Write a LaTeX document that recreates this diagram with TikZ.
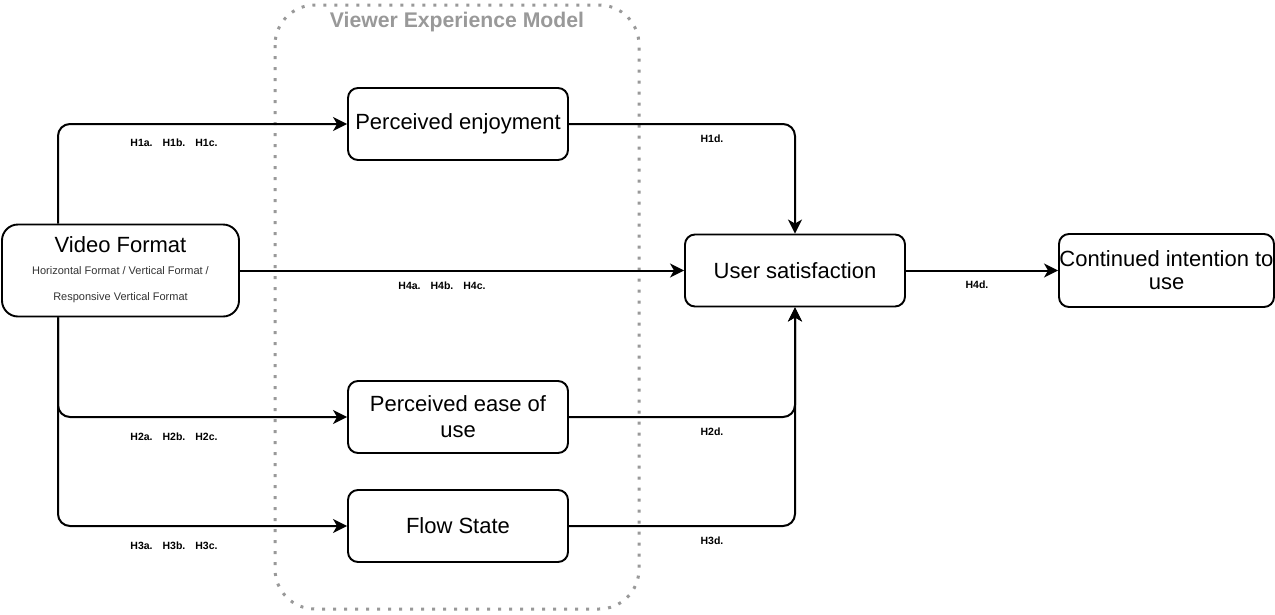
\documentclass[tikz,border=0pt]{standalone}
\usepackage{fontspec}
\setmainfont{Liberation Sans}
\usetikzlibrary{arrows.meta}
\definecolor{modelgray}{HTML}{999999}
\definecolor{subtext}{HTML}{333333}

\begin{document}
\begin{tikzpicture}[x=1pt, y=-1pt,
  box/.style={draw=black, line width=1.9pt, rounded corners=10pt, fill=white, minimum width=220pt, minimum height=72pt, inner sep=0pt, align=center, font=\fontsize{22}{25}\selectfont},
  link/.style={draw=black, line width=2pt, rounded corners=12pt, -{Stealth[length=14pt, width=14pt, inset=4pt]}},
  hyp/.style={font=\fontsize{10.5}{12}\selectfont\bfseries, inner sep=0pt}]
\useasboundingbox[fill=white] (0,0) rectangle (1275,614);
\draw[modelgray, line width=3pt, dash pattern=on 3pt off 8pt, rounded corners=40pt] (275,5) rectangle (639,609);
\node[font=\fontsize{21.2}{24}\selectfont\bfseries, text=modelgray] (modeltitle) at (457,22) {Viewer Experience Model};

\node[box, minimum width=237pt, minimum height=92pt, rounded corners=16pt] (video) at (120.5,270.5) {};
\node[font=\fontsize{22}{25}\selectfont, anchor=base] (videotitle) at (120.5,252) {Video Format};
\node[font=\fontsize{11}{26}\selectfont, text=subtext, align=center] (videosub) at (120.5,285) {Horizontal Format / Vertical Format /\\Responsive Vertical Format};
\node[box] (enjoy) at (458,124) {Perceived enjoyment};
\node[box, font=\fontsize{22}{26}\selectfont] (ease) at (458,417) {Perceived ease of\\use};
\node[box] (flow) at (458,526) {Flow State};
\node[box] (user) at (795,270.5) {User satisfaction};
\node[box, minimum width=215pt, minimum height=73pt, font=\fontsize{22}{23}\selectfont] (cont) at (1166.5,270.5) {Continued intention to\\use};

\coordinate (trunk) at (58,0);
\draw[link] (video.north -| trunk) |- (enjoy.west);
\draw[link] (video.south -| trunk) |- (ease.west);
\draw[link] (video.south -| trunk) |- (flow.west);
\draw[link] (video.east) -- (user.west);
\draw[link] (enjoy.east) -| (user.north);
\draw[link] (ease.east) -| (user.south);
\draw[link] (flow.east) -| (user.south);
\draw[link] (user.east) -- (cont.west);

\node[hyp] (h1) at (174,143) {H1a.\hspace{10pt}H1b.\hspace{10pt}H1c.};
\node[hyp] (h2) at (174,437) {H2a.\hspace{10pt}H2b.\hspace{10pt}H2c.};
\node[hyp] (h3) at (174,546) {H3a.\hspace{10pt}H3b.\hspace{10pt}H3c.};
\node[hyp] (h4) at (442,286) {H4a.\hspace{10pt}H4b.\hspace{10pt}H4c.};
\node[hyp] (h1d) at (712,139) {H1d.};
\node[hyp] (h2d) at (712,432) {H2d.};
\node[hyp] (h3d) at (712,541) {H3d.};
\node[hyp] (h4d) at (977,285) {H4d.};
\end{tikzpicture}
\end{document}
